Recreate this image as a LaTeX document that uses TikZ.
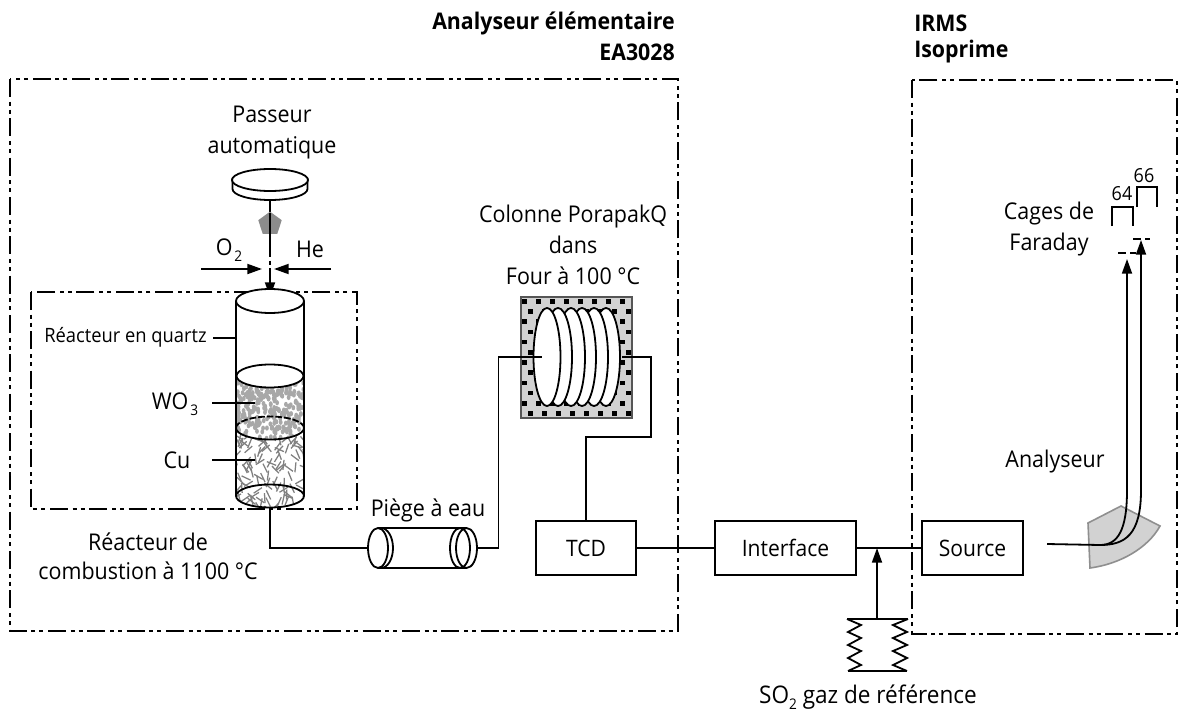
\documentclass[tikz,border=0pt]{standalone}
\usepackage{fontspec}
\setmainfont[FakeStretch=0.93]{Open Sans}
\usetikzlibrary{arrows.meta,shapes.geometric}
\definecolor{fillgrey}{HTML}{D2D2D2}
\definecolor{pelletgrey}{HTML}{A8A8A8}
\definecolor{chipgrey}{HTML}{808080}
\definecolor{edgegrey}{HTML}{8F8F8F}
\definecolor{pentgrey}{HTML}{8C8C8C}
\newcommand{\lowtwo}[1]{\raisebox{-.45ex}{\fontsize{11}{12}\selectfont #1}}
\tikzset{
  ln/.style={line width=1.35pt,black},
  thin ln/.style={line width=1.05pt,black},
  frame/.style={line width=1.3pt,black,dash pattern=on 13.5pt off 3.5pt on 3pt off 3pt on 3pt off 3.5pt},
  txt/.style={font=\fontsize{17.3}{20}\selectfont,inner sep=0pt,align=center,text=black},
  small txt/.style={font=\fontsize{14.8}{16}\selectfont,inner sep=0pt,text=black},
  bold txt/.style={font=\fontsize{17.2}{20.5}\selectfont\bfseries,inner sep=0pt,text=black},
  boxnode/.style={draw,line width=1.3pt,rectangle,minimum height=40.5pt,inner sep=0pt,font=\fontsize{17}{20}\selectfont},
  arr/.style={ln,-{Triangle[length=11pt,width=7.5pt]}},
}
\begin{document}
\begin{tikzpicture}[x=0.75pt,y=-0.75pt]
\useasboundingbox (0,0) rectangle (1184,713);
\fill[white] (0,0) rectangle (1184,713);

% frames
\draw[frame] (10,79) rectangle (678,631);
\draw[frame] (912,80) rectangle (1177,634);
\draw[frame] (31,292) rectangle (357,509);

% titles
\node[bold txt,anchor=east] (t1) at (675,23) {Analyseur élémentaire};
\node[bold txt,anchor=east] (t2) at (675,52) {EA3028};
\node[bold txt,anchor=west] (t3) at (914,23) {IRMS};
\node[bold txt,anchor=west] (t4) at (914,52) {Isoprime};

% sampler
\node[txt] (passeur) at (272,132.5) {Passeur\\[3pt]automatique};
\draw[ln] (232.5,178) -- (232.5,189) arc[start angle=180,end angle=360,x radius=37.5,y radius=-11] -- (307.5,178);
\draw[ln,fill=white] (270,180) ellipse[x radius=38,y radius=11];
\coordinate (diskb) at (270,200);
\coordinate (tubetop) at (270,297);
\coordinate (pentc) at (270,224);
\draw[ln,dash pattern=on 9pt off 2.5pt on 3pt off 2.5pt] (diskb) -- (tubetop);
\node[regular polygon,regular polygon sides=5,fill=pentgrey,minimum size=18.5pt,inner sep=0pt] (pent) at (pentc) {};
\draw[ln] (270,213) -- (270,247);
\draw[arr] (270,270) -- (tubetop);

\node[txt] (o2) at (229,250) {O\kern1.5pt\lowtwo{2}};
\node[txt] (he) at (310,249) {He};
\coordinate (o2a) at (201,269); \coordinate (o2b) at (262,269);
\coordinate (hea) at (331,269); \coordinate (heb) at (274,269);
\draw[arr] (o2a) -- (o2b);
\draw[arr] (hea) -- (heb);

% reactor contents : copper
\begin{scope}
\clip (236,428) -- (304,428) -- (304,496) arc[start angle=0,end angle=180,x radius=34,y radius=11.5] -- cycle;
\pgfmathsetseed{7}
\foreach \i in {1,...,140}{
  \pgfmathsetmacro\xx{232+72*rnd}
  \pgfmathsetmacro\yy{430+84*rnd}
  \pgfmathsetmacro\aa{15+140*rnd}
  \draw[chipgrey,line width=0.95pt] (\xx,\yy) -- ++(\aa:10);
}
\end{scope}
% reactor contents : WO3
\begin{scope}
\clip (236,376) -- (304,376) -- (304,428) arc[start angle=0,end angle=180,x radius=34,y radius=11.5] -- cycle;
\fill[white] (236,376) rectangle (304,445);
\pgfmathsetseed{11}
\foreach \i in {1,...,330}{
  \pgfmathsetmacro\xx{236+68*rnd}
  \pgfmathsetmacro\yy{380+62*rnd}
  \fill[pelletgrey] (\xx,\yy) ellipse[x radius=1.9,y radius=2.6];
}
\end{scope}
% reactor outline
\draw[ln] (236,301) -- (236,496) arc[start angle=180,end angle=360,x radius=34,y radius=-11.5] -- (304,301);
\draw[ln,fill=white] (270,301) ellipse[x radius=34,y radius=12];
\draw[ln,fill=white] (270,376) ellipse[x radius=33.5,y radius=11.5];
\draw[ln] (236,428) arc[start angle=180,end angle=360,x radius=34,y radius=-11.5];
\draw[ln,dash pattern=on 5pt off 1.5pt] (236,428) arc[start angle=180,end angle=360,x radius=34,y radius=11.5];
\draw[ln] (236,496) arc[start angle=180,end angle=360,x radius=34,y radius=11.5];
\coordinate (reactb) at (270,507.5);

% reactor labels
\node[small txt,anchor=west] (rq) at (44,337) {Réacteur en quartz};
\coordinate (rqe) at (236,338);
\draw[thin ln] (213,338) -- (rqe);
\node[txt] (wo3) at (175,404) {WO\kern1.5pt\lowtwo{3}};
\coordinate (wo3a) at (212,403); \coordinate (wo3b) at (255,403);
\draw[thin ln] (wo3a) -- (wo3b);
\node[txt] (cu) at (177,460) {Cu};
\coordinate (cua) at (212,460); \coordinate (cub) at (255,460);
\draw[thin ln] (cua) -- (cub);
\node[txt] (rc) at (148,556) {Réacteur de\\[2pt]combustion à 1100 °C};

% water trap
\node[txt] (piege) at (428,510) {Piège à eau};
\coordinate (trapl) at (368,548);
\coordinate (trapr) at (477,548);
\draw[ln] (378,528) -- (466,528);
\draw[ln] (378,568) -- (466,568);
\draw[ln] (381,528) arc[start angle=90,end angle=-90,x radius=12,y radius=-20];
\draw[ln,fill=white] (378,548) ellipse[x radius=10,y radius=20];
\draw[ln] (460,548) ellipse[x radius=10,y radius=20];
\draw[ln] (466.5,548) ellipse[x radius=10.5,y radius=20];
\draw[ln] (reactb) |- (trapl);
\coordinate (pipeL) at (542,357);
\draw[ln] (trapr) -- (498.5,548) |- (pipeL);

% oven
\node[txt] (col) at (573,245) {Colonne PorapakQ\\[3pt]dans\\[3pt]Four à 100 °C};
\fill[fillgrey] (521,297) rectangle (632,418);
\begin{scope}
\clip (521,297) rectangle (632,418);
\foreach \r in {0,...,11}{
  \foreach \c in {0,...,8}{
    \pgfmathsetmacro\xx{522+\c*14+mod(\r,2)*6}
    \pgfmathsetmacro\yy{299+\r*10.2}
    \fill[black] (\xx,\yy) rectangle ++(4.5,4.5);
  }
}
\end{scope}
\draw[line width=1.1pt,edgegrey!60!black] (521,297) rectangle (632,418);
\foreach \cx in {606,594,582,571,558}{
  \draw[ln,fill=white] (\cx,357) ellipse[x radius=14,y radius=49];
}
\draw[ln,fill=white] (547,357) ellipse[x radius=13.5,y radius=49];
\draw[ln] (498.5,357) -- (pipeL);

% boxes
\node[boxnode,minimum width=75pt] (tcd) at (586,548) {TCD};
\node[boxnode,minimum width=105.5pt] (iface) at (785.5,548) {Interface};
\node[boxnode,minimum width=75.5pt] (source) at (972.5,548) {Source};

\coordinate (pipeR) at (622,357);
\draw[ln] (pipeR) -- (651,357) -- (651,437) -- (586,437) -- (tcd.north);
\draw[ln] (tcd.east) -- (iface.west);
\draw[ln] (iface.east) -- (source.west);

% reference gas bellows
\coordinate (belt) at (877,619);
\coordinate (gasin) at (877,548);
\draw[ln] (847,619) -- (908,619);
\draw[ln] (848,671) -- (907,671);
\draw[ln] (847,619) -- (861,625) -- (848,632) -- (861,638) -- (848,645) -- (861,651) -- (848,658) -- (861,665) -- (848,671);
\draw[ln] (908,619) -- (893,625) -- (907,632) -- (893,638) -- (907,645) -- (893,651) -- (907,658) -- (893,665) -- (907,671);
\draw[arr] (belt) -- (gasin);
\node[txt,font=\fontsize{18.2}{20}\selectfont] (so2) at (868,697) {SO\lowtwo{2} gaz de référence};

% analyser sector
\draw[line width=1.2pt,edgegrey,fill=fillgrey] (1088,523) -- (1121,506) -- (1160,526) .. controls (1148,548) and (1120,564) .. (1090,568) -- cycle;
\node[txt] (ana) at (1055,462) {Analyseur};

% ion beams
\coordinate (sorc) at (1047,544);
\coordinate (tip64) at (1127,259);
\coordinate (tip66) at (1141,240);
\draw[ln] (sorc) -- (1100,545) .. controls (1118,545) and (1127,530) .. (1127,490) -- (1127,270);
\draw[ln] (1100,545) .. controls (1125,545) and (1141,535) .. (1141,490) -- (1141,250);
\draw[arr] (1127,275) -- (tip64);
\draw[arr] (1141,256) -- (tip66);

% Faraday cages
\node[txt] (cages) at (1049,229) {Cages de\\[3pt]Faraday};
\draw[ln] (1112,226) -- (1112,207) -- (1133,207) -- (1133,226);
\draw[ln] (1137,207) -- (1137,187) -- (1157,187) -- (1157,207);
\node[small txt,font=\fontsize{14.5}{16}\selectfont] (n64) at (1122,194) {64};
\node[small txt,font=\fontsize{14.5}{16}\selectfont] (n66) at (1144,176) {66};
\draw[ln,dash pattern=on 6pt off 3pt] (1118,253) -- (1136,253);
\draw[ln,dash pattern=on 6pt off 3pt] (1133,239) -- (1150,239);
\end{tikzpicture}
\end{document}
